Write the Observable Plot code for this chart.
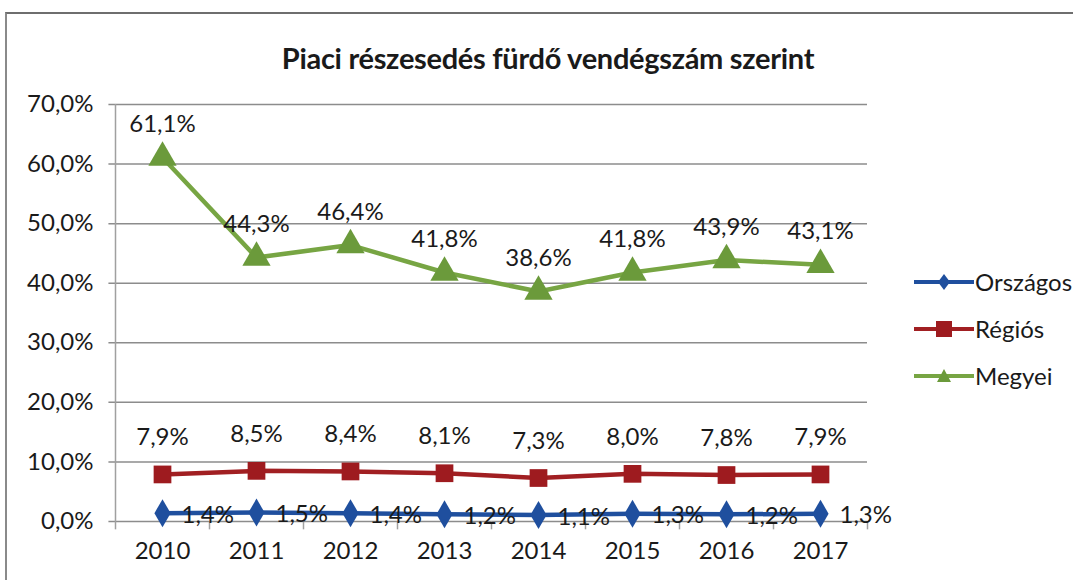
<!DOCTYPE html>
<html>
<head>
<meta charset="utf-8">
<script src="https://cdn.jsdelivr.net/npm/d3@7"></script>
<script src="https://cdn.jsdelivr.net/npm/@observablehq/plot@0.6"></script>
<style>
  body { margin: 0; background: #fff; }
  #wrap { position: relative; width: 1073px; height: 580px; overflow: hidden; font-family: Lato, "Open Sans", sans-serif; }
  #frame { position: absolute; left: 5px; top: 12px; width: 1090px; height: 600px; border-left: 2px solid #8a8a8a; border-top: 2px solid #6e6e6e; }
  #title { position: absolute; left: 0; width: 1096px; top: 40px; text-align: center; font-weight: bold; font-size: 29px; color: #1a1a1a; letter-spacing: -0.3px; }
  #legend { position: absolute; left: 914px; top: 258px; font-size: 24px; color: #1a1a1a; white-space: nowrap; }
  #legend .item { display: flex; align-items: center; height: 47px; }
  #legend svg { margin-right: 1px; }
  #chart { position: absolute; left: 0; top: 0; }
</style>
</head>
<body>
<div id="wrap">
  <div id="frame"></div>
  <div id="chart"></div>
  <div id="title">Piaci részesedés fürdő vendégszám szerint</div>
  <div id="legend"></div>
</div>
<script>
const years = [2010, 2011, 2012, 2013, 2014, 2015, 2016, 2017];
const orszagos = [1.4, 1.5, 1.4, 1.2, 1.1, 1.3, 1.2, 1.3];
const regios = [7.9, 8.5, 8.4, 8.1, 7.3, 8.0, 7.8, 7.9];
const megyei = [61.1, 44.3, 46.4, 41.8, 38.6, 41.8, 43.9, 43.1];
const yTicks = [0, 10, 20, 30, 40, 50, 60, 70];
const seriesNames = ["Országos", "Régiós", "Megyei"];
const seriesColors = ["#1f4f9e", "#a11f22", "#77a543"];
const markerColors = ["#1f4f9e", "#9e1b1f", "#6b9a3b"];
const seriesSymbols = ["diamond", "square", "triangle"];

const fmt = v => v.toFixed(1).replace(".", ",") + "%";
const toRows = (vals, name) => vals.map((v, i) => ({year: years[i], value: v, series: name}));
const rowsO = toRows(orszagos, seriesNames[0]);
const rowsR = toRows(regios, seriesNames[1]);
const rowsM = toRows(megyei, seriesNames[2]);
const boundaries = d3.range(years.length + 1).map(i => years[0] - 0.5 + i);
const FS = 24;

const plot = Plot.plot({
  width: 1073,
  height: 580,
  marginLeft: 115,
  marginRight: 206,
  marginTop: 104,
  marginBottom: 59,
  style: {fontFamily: "Lato, 'Open Sans', sans-serif", fontSize: FS + "px", color: "#1a1a1a", background: "transparent"},
  x: {type: "linear", domain: [years[0] - 0.5, years[years.length - 1] + 0.5], label: null},
  y: {domain: [0, 70], label: null},
  marks: [
    Plot.ruleY(yTicks, {x1: years[0] - 0.57, x2: years[years.length - 1] + 0.5, stroke: "#8c8c8c", strokeWidth: 1.5}),
    Plot.ruleX([boundaries[0]], {y1: 0, y2: 70, stroke: "#a0a0a0", strokeWidth: 1.5}),
    Plot.ruleX(boundaries, {x: d => d, y1: 0, y2: -1.4, stroke: "#a0a0a0", strokeWidth: 1.5}),
    Plot.axisY({ticks: yTicks, tickSize: 0, tickPadding: 22, tickFormat: fmt, fill: "#1a1a1a", label: null, fontSize: FS}),
    Plot.axisX({ticks: years, tickSize: 0, tickPadding: 20, tickFormat: d => String(d), fill: "#1a1a1a", label: null, fontSize: FS}),
    // lines
    Plot.line(rowsM, {x: "year", y: "value", stroke: seriesColors[2], strokeWidth: 4.5}),
    Plot.line(rowsR, {x: "year", y: "value", stroke: seriesColors[1], strokeWidth: 4.5}),
    Plot.line(rowsO, {x: "year", y: "value", stroke: seriesColors[0], strokeWidth: 4.5}),
    // markers
    Plot.dot(rowsM, {x: "year", y: "value", symbol: seriesSymbols[2], r: 10.5, fill: markerColors[2], stroke: "none"}),
    Plot.dot(rowsR, {x: "year", y: "value", symbol: seriesSymbols[1], r: 10, fill: markerColors[1], stroke: "none"}),
    Plot.dot(rowsO, {x: "year", y: "value", symbol: seriesSymbols[0], r: 8.5, fill: markerColors[0], stroke: "none"}),
    // labels
    Plot.text(rowsM, {x: "year", y: "value", text: d => fmt(d.value), dy: -33, fontSize: FS, fill: "#1a1a1a"}),
    Plot.text(rowsR, {x: "year", y: "value", text: d => fmt(d.value), dy: -37, fontSize: FS, fill: "#1a1a1a"}),
    Plot.text(rowsO, {x: "year", y: "value", text: d => fmt(d.value), dx: 19, dy: 2, textAnchor: "start", fontSize: FS, fill: "#1a1a1a"})
  ]
});
document.getElementById("chart").appendChild(plot);

// legend
const legend = document.getElementById("legend");
seriesNames.forEach((name, i) => {
  const item = document.createElement("div");
  item.className = "item";
  const sym = seriesSymbols[i];
  let shape = "";
  if (sym === "diamond") shape = `<path d="M30,3 L36,11 L30,19 L24,11 Z" fill="${markerColors[i]}"/>`;
  else if (sym === "square") shape = `<rect x="22" y="3" width="16" height="16" fill="${markerColors[i]}"/>`;
  else shape = `<path d="M30,4 L37,17 L23,17 Z" fill="${markerColors[i]}"/>`;
  item.innerHTML = `<svg width="60" height="22"><line x1="0" y1="11" x2="60" y2="11" stroke="${seriesColors[i]}" stroke-width="4"/>${shape}</svg><span>${name}</span>`;
  legend.appendChild(item);
});
</script>
</body>
</html>
